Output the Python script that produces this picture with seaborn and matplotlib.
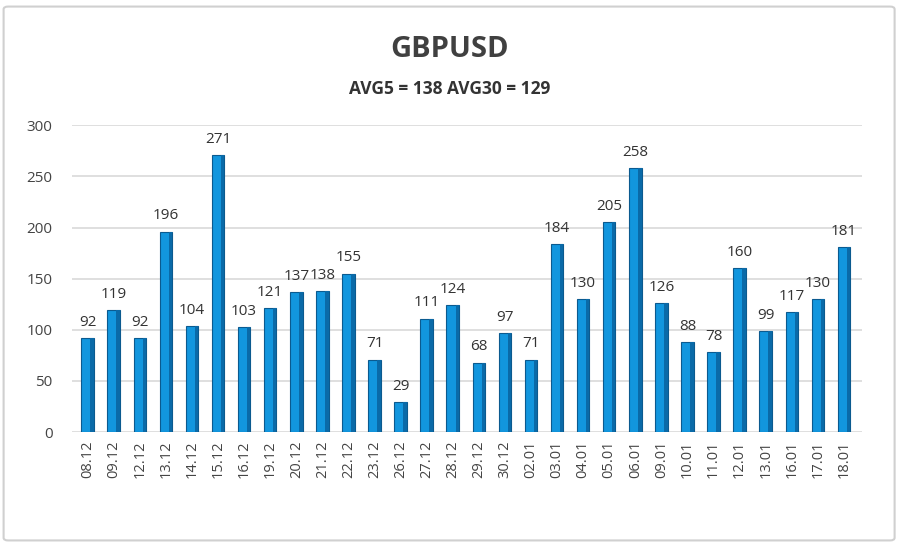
import pandas as pd
import numpy as np
import matplotlib.pyplot as plt
import seaborn as sns
from matplotlib.patches import FancyBboxPatch, Rectangle

# data
dates = ["08.12", "09.12", "12.12", "13.12", "14.12", "15.12", "16.12", "19.12",
         "20.12", "21.12", "22.12", "23.12", "26.12", "27.12", "28.12", "29.12",
         "30.12", "02.01", "03.01", "04.01", "05.01", "06.01", "09.01", "10.01",
         "11.01", "12.01", "13.01", "16.01", "17.01", "18.01"]
values = [92, 119, 92, 196, 104, 271, 103, 121, 137, 138, 155, 71, 29, 111, 124,
          68, 97, 71, 184, 130, 205, 258, 126, 88, 78, 160, 99, 117, 130, 181]
yticks = [0, 50, 100, 150, 200, 250, 300]

df = pd.DataFrame({"date": dates, "value": values})

sns.set_style("white")
plt.rcParams["font.family"] = ["Open Sans", "DejaVu Sans"]

fig = plt.figure(figsize=(9, 5.47), dpi=100)
ax = fig.add_axes([0.08, 0.21, 0.878, 0.561])

# horizontal gridlines
for t in yticks:
    ax.axhline(t, color="#d9d9d9", lw=1.2, zorder=0)

sns.barplot(data=df, x="date", y="value", color="#1296de", width=0.48,
            edgecolor="#0b5a8f", linewidth=0.8, saturation=1, ax=ax, zorder=3)

# darker right side for a bit of 3D look
for p in list(ax.patches):
    x0, w, h = p.get_x(), p.get_width(), p.get_height()
    ax.add_patch(Rectangle((x0 + w * 0.72, 0), w * 0.28, h, color="#0a6aa8",
                           lw=0, zorder=4))

# value labels
for i, v in enumerate(values):
    ax.text(i, v + 8, str(v), ha="center", va="bottom", fontsize=11, color="#333333")

ax.set_xlim(-0.6, 29.7)
ax.set_ylim(0, 300)
ax.set_yticks(yticks)
ax.set_yticklabels([str(t) for t in yticks], fontsize=11, color="#444444")
ax.tick_params(axis="y", length=0, pad=14)
ax.tick_params(axis="x", length=0, pad=6)
plt.setp(ax.get_xticklabels(), rotation=90, fontsize=10.5, color="#444444")
ax.set_xlabel("")
ax.set_ylabel("")
sns.despine(ax=ax, left=True, bottom=True)

fig.text(0.5, 0.91, "GBPUSD", ha="center", va="center", fontsize=21,
         fontweight="bold", color="#404040")
fig.text(0.5, 0.838, "AVG5 = 138 AVG30 = 129", ha="center", va="center",
         fontsize=12.5, fontweight="bold", color="#333333")

# light frame around the chart
fig.patches.append(FancyBboxPatch((0.004, 0.012), 0.99, 0.976,
                                  boxstyle="round,pad=0,rounding_size=0.005",
                                  transform=fig.transFigure, fill=False,
                                  edgecolor="#d0d0d0", lw=1.5))

fig.savefig("out.png", dpi=100)
